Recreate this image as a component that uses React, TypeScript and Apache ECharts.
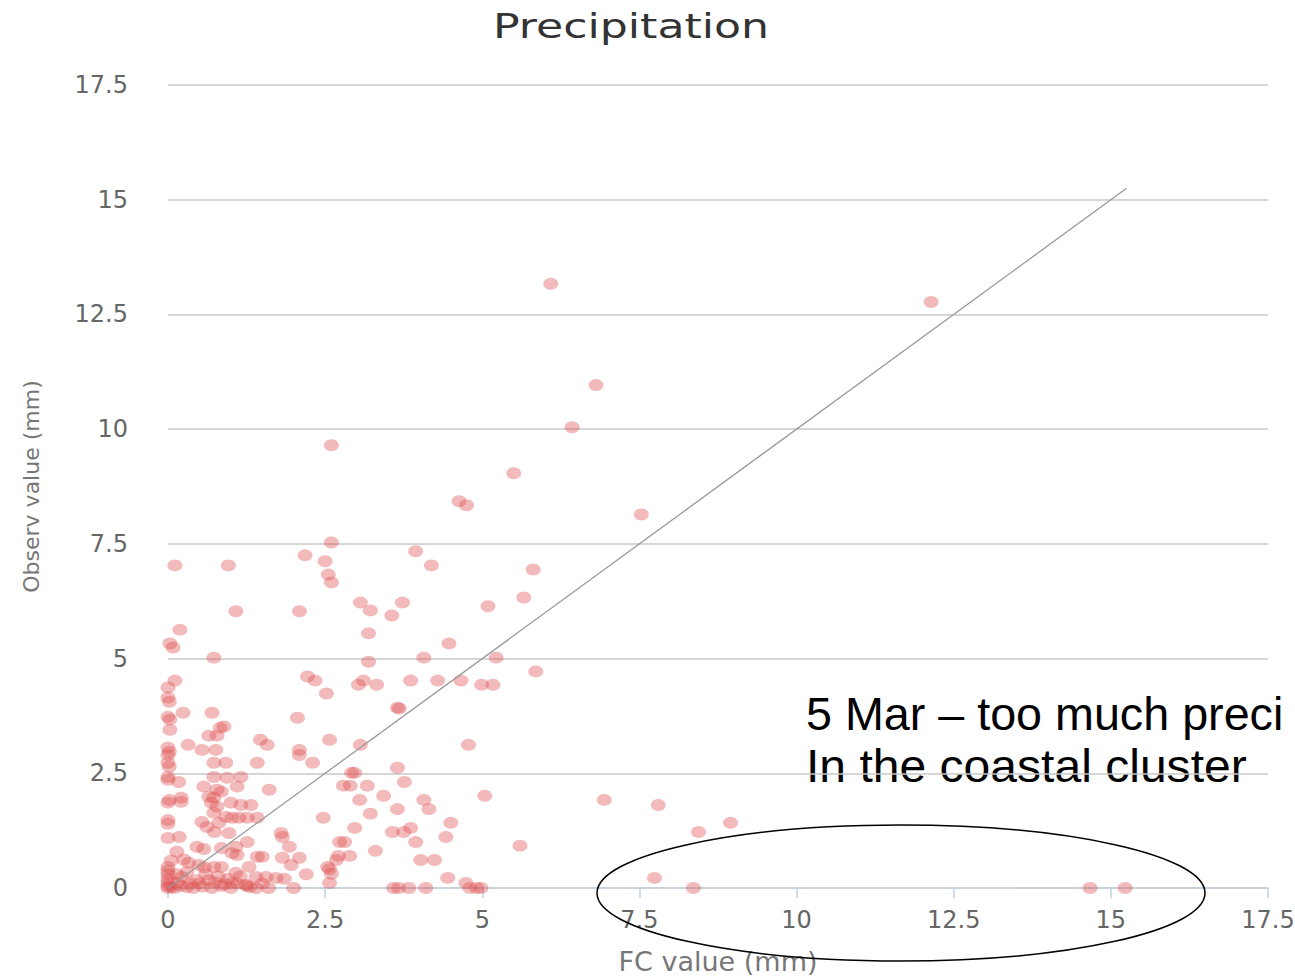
import React, { useEffect, useRef } from "react";
import * as echarts from "echarts";

// Forecast (FC) vs observed precipitation, mm. Each pair is [fc, observed].
const upperPoints: [number, number][] = [
  [6.09, 13.17], [12.14, 12.77], [6.81, 10.96], [6.43, 10.04], [2.6, 9.65],
  [5.5, 9.04], [4.63, 8.43], [4.75, 8.34], [7.53, 8.14], [2.6, 7.53],
  [3.94, 7.34], [2.18, 7.25], [0.11, 7.03], [0.96, 7.03], [2.5, 7.12],
  [4.19, 7.03], [2.55, 6.83], [2.6, 6.66], [5.81, 6.94], [5.66, 6.33],
  [3.06, 6.22], [3.73, 6.22], [3.22, 6.05], [1.08, 6.03], [2.09, 6.03],
  [3.56, 5.94], [5.09, 6.14], [0.19, 5.63], [0.03, 5.33], [0.08, 5.24],
  [3.19, 5.55], [4.47, 5.33], [0.73, 5.02], [3.19, 4.93], [4.07, 5.02],
  [5.22, 5.02],
];

const midPoints: [number, number][] = [
  [5.85, 4.72], [2.22, 4.61], [2.34, 4.52], [2.52, 4.24], [0.11, 4.52],
  [3.03, 4.43], [3.11, 4.52], [3.32, 4.43], [3.86, 4.52], [4.29, 4.52],
  [4.66, 4.52], [4.99, 4.43], [5.17, 4.43], [3.65, 3.93], [3.68, 3.91],
  [2.06, 3.71], [4.78, 3.12], [2.57, 3.23], [3.06, 3.12], [3.65, 2.62],
  [2.92, 2.51], [2.97, 2.51],
  [0, 4.37], [0, 4.15], [0.02, 4.06], [0.24, 3.82], [0.7, 3.82], [0, 3.73],
  [0.03, 3.67], [0.89, 3.52], [0.83, 3.49], [0.03, 3.45], [0.65, 3.32],
  [0.78, 3.32], [0.32, 3.12], [0, 3.06], [0.02, 2.97], [0, 2.9],
  [0.54, 3.01], [0.76, 3.01], [1.47, 3.23], [1.58, 3.12], [2.09, 3.01],
  [2.09, 2.9], [0, 2.73], [0.02, 2.64], [0.73, 2.73], [0.92, 2.73],
  [1.42, 2.73], [2.3, 2.73],
];

const lowPoints: [number, number][] = [
  [3.76, 2.31], [2.79, 2.23], [2.9, 2.23], [3.17, 2.23], [3.43, 2.01],
  [3.05, 1.92], [4.07, 1.92], [5.04, 2.01], [4.15, 1.72], [3.65, 1.72],
  [3.22, 1.62], [4.5, 1.42], [2.47, 1.53], [3.86, 1.31], [3.57, 1.22],
  [3.75, 1.22], [2.97, 1.31], [4.42, 1.11], [2.73, 1.0], [2.81, 1.0],
  [3.94, 1.0], [5.6, 0.92], [3.3, 0.81], [2.89, 0.7], [2.68, 0.61],
  [2.71, 0.7], [4.02, 0.61], [4.24, 0.61], [2.57, 0.41], [2.6, 0.31],
  [4.45, 0.22], [2.57, 0.11],
  [0, 2.42], [0, 2.36], [0.17, 2.31], [0.73, 2.42], [0.94, 2.4],
  [1.16, 2.42], [0.57, 2.21], [0.78, 2.14], [0.85, 2.1], [1.1, 2.21],
  [1.61, 2.14], [0.65, 1.99], [0.73, 1.97], [0.21, 1.97], [0.02, 1.92],
  [0, 1.86], [0.21, 1.88], [0.69, 1.86], [0.78, 1.77], [1.0, 1.86],
  [1.16, 1.81], [1.32, 1.81], [0.73, 1.64], [0.92, 1.55], [1.02, 1.53],
  [1.13, 1.53], [1.26, 1.53], [1.42, 1.53], [0, 1.48], [0, 1.4],
  [0.54, 1.44], [0.62, 1.33], [0.81, 1.42], [0.74, 1.22], [0.97, 1.2],
  [1.8, 1.2], [1.82, 1.11], [0, 1.09], [0.18, 1.11], [0.46, 0.9],
  [0.57, 0.85], [0.85, 0.87], [1.08, 0.9], [1.26, 1.0], [1.93, 0.9],
  [0.14, 0.79], [1.02, 0.76], [1.1, 0.72], [1.42, 0.68], [1.5, 0.68],
  [1.82, 0.66], [1.96, 0.5], [2.09, 0.66], [2.54, 0.46],
];

const nearZeroPoints: [number, number][] = [
  [0, 0.46], [0, 0.38], [0, 0.3], [0, 0.2], [0, 0.12], [0, 0.05], [0, 0],
  [0.05, 0.02], [0.1, 0], [0.2, 0.05], [0.3, 0.02], [0.4, 0], [0.55, 0.03],
  [0.7, 0], [0.85, 0.05], [1.0, 0], [1.1, 0.1], [1.25, 0.05], [1.4, 0],
  [1.6, 0], [0.33, 0.55], [0.49, 0.5], [0.73, 0.46], [0.85, 0.46],
  [1.08, 0.33], [1.29, 0.46], [1.4, 0.24], [1.56, 0.24], [1.72, 0.22],
  [1.02, 0.11], [1.24, 0.07], [0.22, 0.24], [0.45, 0.17], [0.65, 0.17],
  [0.14, 0.3], [0.3, 0.35], [0.6, 0.3], [0.8, 0.25], [0.95, 0.2],
  [1.15, 0.25], [0.15, 0.12], [0.35, 0.1], [0.5, 0.1], [0.75, 0.12],
  [0.9, 0.08], [1.85, 0.2], [2.0, 0.0], [0.58, 0.45], [2.2, 0.3],
  [1.3, 0.02], [1.5, 0.1], [0.05, 0.6], [0.25, 0.62],
  [3.59, 0], [3.67, 0], [3.83, 0], [4.1, 0], [4.74, 0.11], [4.8, 0],
  [4.91, 0], [4.98, 0],
];

const farPoints: [number, number][] = [
  [6.94, 1.92], [7.8, 1.81], [8.44, 1.22], [8.95, 1.42], [7.74, 0.22],
  [8.36, 0], [14.67, 0], [15.23, 0],
];

// Perfect-forecast reference line (fc = observed)
const diagonal: [number, number][] = [
  [0, 0],
  [15.25, 15.25],
];

const axisTicks = { min: 0, max: 17.5, interval: 2.5 };

const titleText = "Precipitation";
const xName = "FC value (mm)";
const yName = "Observ value (mm)";
const noteLines = ["5 Mar \u2013 too much preci", "In the coastal cluster"];

export default function App() {
  const ref = useRef<HTMLDivElement>(null);

  useEffect(() => {
    if (!ref.current) return;
    const chart = echarts.init(ref.current, undefined, { renderer: "svg" });
    const allPoints = [
      ...upperPoints,
      ...midPoints,
      ...lowPoints,
      ...nearZeroPoints,
      ...farPoints,
    ];
    const labelFont = "DejaVu Sans";
    const noteStyle = {
      fontSize: 46,
      fontFamily: "Liberation Sans",
      fill: "#000000",
      textAlign: "left",
      textVerticalAlign: "middle",
    };

    chart.setOption({
      animation: false,
      backgroundColor: "#ffffff",
      grid: {
        left: 168,
        right: 27,
        top: 85,
        bottom: 88,
        containLabel: false,
        outerBoundsMode: "none",
      },
      xAxis: {
        type: "value",
        ...axisTicks,
        name: xName,
        nameLocation: "middle",
        nameGap: 60,
        nameTextStyle: { fontSize: 27, color: "#777777", fontFamily: labelFont },
        axisLine: { show: true, lineStyle: { color: "#C0D0E0", width: 1.5 } },
        axisTick: { show: true, length: 10, lineStyle: { color: "#C0D0E0", width: 1.5 } },
        axisLabel: { fontSize: 24, color: "#666666", margin: 20, fontFamily: labelFont },
        splitLine: { show: false },
      },
      yAxis: {
        type: "value",
        ...axisTicks,
        name: yName,
        nameLocation: "middle",
        nameGap: 126,
        nameTextStyle: { fontSize: 22, color: "#777777", fontFamily: labelFont },
        axisLine: { show: false },
        axisTick: { show: false },
        axisLabel: { fontSize: 24, color: "#666666", margin: 40, fontFamily: labelFont },
        splitLine: { show: true, lineStyle: { color: "#C8C8C8", width: 1.5 } },
      },
      series: [
        {
          type: "scatter",
          data: allPoints,
          symbol: "circle",
          symbolSize: [15, 12],
          itemStyle: { color: "rgba(223, 83, 83, 0.5)" },
          z: 2,
        },
        {
          type: "line",
          data: diagonal,
          symbol: "none",
          lineStyle: { color: "#999999", width: 1.3 },
          z: 3,
        },
      ],
      graphic: [
        {
          type: "text",
          x: 631,
          y: 26,
          scaleX: 1.3,
          style: {
            text: titleText,
            fontSize: 34,
            fontFamily: labelFont,
            fill: "#333333",
            textAlign: "center",
            textVerticalAlign: "middle",
          },
        },
        {
          type: "text",
          x: 806,
          y: 714,
          scaleX: 1.015,
          style: { text: noteLines[0], ...noteStyle },
        },
        {
          type: "text",
          x: 806,
          y: 766,
          scaleX: 1.045,
          style: { text: noteLines[1], ...noteStyle },
        },
        {
          type: "ellipse",
          shape: { cx: 901, cy: 893, rx: 304, ry: 68 },
          style: { fill: "none", stroke: "#000000", lineWidth: 1.5 },
          z: 10,
        },
      ],
    });

    return () => chart.dispose();
  }, []);

  return (
    <div
      ref={ref}
      style={{ position: "fixed", left: 0, top: 0, width: 1295, height: 976 }}
    />
  );
}
